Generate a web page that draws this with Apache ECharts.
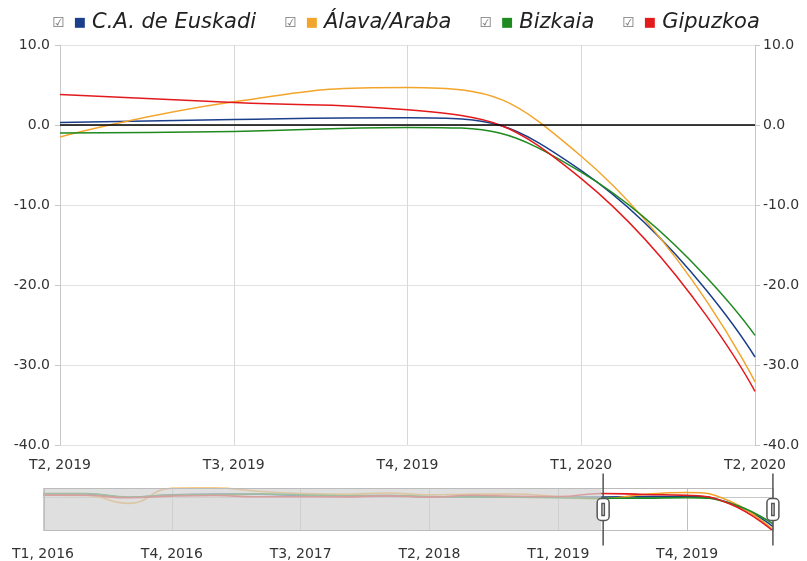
<!DOCTYPE html>
<html>
<head>
<meta charset="utf-8">
<title>Euskadi</title>
<script src="https://cdn.jsdelivr.net/npm/echarts@6/dist/echarts.min.js"></script>
<style>
  html, body { margin: 0; padding: 0; background: #fff; }
  #chart { width: 807px; height: 561px; }
</style>
</head>
<body>
<div id="chart"></div>
<script>
// trimestres
const quarters = [
  'T1, 2016', 'T2, 2016', 'T3, 2016', 'T4, 2016',
  'T1, 2017', 'T2, 2017', 'T3, 2017', 'T4, 2017',
  'T1, 2018', 'T2, 2018', 'T3, 2018', 'T4, 2018',
  'T1, 2019', 'T2, 2019', 'T3, 2019', 'T4, 2019',
  'T1, 2020', 'T2, 2020',
]
const seriesNames = ['C.A. de Euskadi', 'Álava/Araba', 'Bizkaia', 'Gipuzkoa']
const euskadi = [3.3, 3.3, 0.0, 2.6, 3.2, 3.0, 1.8, 1.2, 1.6, 0.5, 0.6, 0.2, 0.2, 0.3, 0.7, 0.9, -5.7, -29.0]
const alava = [2.0, 1.8, -6.0, 9.0, 9.2, 6.0, 3.8, 3.0, 4.2, 2.5, 3.0, 3.2, 0.6, -1.5, 2.9, 4.7, -3.9, -32.1]
const bizkaia = [3.8, 3.8, 0.3, 2.2, 2.6, 3.5, 2.4, 1.6, 2.0, 0.8, 0.3, 0.0, -0.4, -1.0, -0.8, -0.3, -5.9, -26.3]
const gipuzkoa = [2.2, 2.0, -0.5, 1.2, 1.8, 0.6, 0.6, 0.4, 1.4, 0.2, 2.0, 1.0, 0.8, 3.8, 2.8, 1.9, -6.7, -33.3]
// eje Y
const yMin = -40
const yMax = 10
const yStep = 10
// ventana del zoom
const zoomStart = 'T2, 2019'
const zoomEnd = 'T2, 2020'

const colors = ['#1b3f8b', '#f2a52a', '#1f8a1f', '#e31a1c']
const seriesData = [euskadi, alava, bizkaia, gipuzkoa]
const font = 'DejaVu Sans'

// rango del navegador = min/max de los datos
const allValues = [].concat(euskadi, alava, bizkaia, gipuzkoa)
const miniMin = Math.min.apply(null, allValues)
const miniMax = Math.max.apply(null, allValues)

const chart = echarts.init(document.getElementById('chart'))

// series del grafico principal
const mainSeries = seriesNames.map((name, i) => ({
  name: name,
  type: 'line',
  xAxisIndex: 0,
  yAxisIndex: 0,
  data: seriesData[i],
  smooth: 0.5,
  symbol: 'none',
  lineStyle: { width: 1.5, color: colors[i] },
  itemStyle: { color: colors[i] },
  markLine: i === 0 ? {
    silent: true,
    symbol: 'none',
    label: { show: false },
    lineStyle: { color: '#000', width: 1.5, type: 'solid' },
    data: [{ yAxis: 0 }],
  } : undefined,
}))

// series del navegador (abajo)
const miniSeries = seriesNames.map((name, i) => ({
  name: name,
  type: 'line',
  xAxisIndex: 1,
  yAxisIndex: 2,
  data: seriesData[i],
  smooth: 0.5,
  symbol: 'none',
  silent: true,
  lineStyle: { width: 1.6, color: colors[i] },
  itemStyle: { color: colors[i] },
}))

// zona gris fuera de la ventana seleccionada
const shade = {
  type: 'custom',
  xAxisIndex: 1,
  yAxisIndex: 2,
  silent: true,
  z: 5,
  encode: { x: [0, 1] },
  data: [[quarters.indexOf(quarters[0]), quarters.indexOf(zoomStart)]],
  renderItem: (params, api) => {
    const a = api.coord([api.value(0), miniMax])
    const b = api.coord([api.value(1), miniMax])
    const cs = params.coordSys
    return {
      type: 'rect',
      shape: { x: a[0], y: cs.y, width: b[0] - a[0], height: cs.height },
      style: { fill: 'rgba(210,210,210,0.72)' },
    }
  },
}

const axisGray = '#c8c8c8'
const labelStyle = { fontFamily: font, fontSize: 14, color: '#333' }

const option = {
  animation: false,
  legend: {
    top: 5,
    left: 'center',
    icon: 'none',
    itemWidth: 0,
    itemGap: 23,
    data: seriesNames,
    formatter: (name) => {
      const i = seriesNames.indexOf(name)
      return '{cb|\u2611}{s' + i + '|\u25A0}{t|' + name + '}'
    },
    textStyle: {
      fontFamily: font,
      fontSize: 21,
      fontStyle: 'italic',
      color: '#222',
      lineHeight: 26,
      rich: {
        cb: { fontFamily: font, fontSize: 14, fontStyle: 'normal', color: '#777', padding: [0, 9, 0, 0] },
        s0: { fontFamily: font, fontSize: 13, fontStyle: 'normal', color: colors[0], padding: [0, 6, 0, 0] },
        s1: { fontFamily: font, fontSize: 13, fontStyle: 'normal', color: colors[1], padding: [0, 6, 0, 0] },
        s2: { fontFamily: font, fontSize: 13, fontStyle: 'normal', color: colors[2], padding: [0, 6, 0, 0] },
        s3: { fontFamily: font, fontSize: 13, fontStyle: 'normal', color: colors[3], padding: [0, 6, 0, 0] },
        t: { fontFamily: font, fontSize: 21, fontStyle: 'italic', color: '#222' },
      },
    },
  },
  grid: [
    { left: 60, right: 52, top: 45, bottom: 116 },
    { left: 43, right: 34, top: 488, height: 43 },
  ],
  xAxis: [
    {
      type: 'category',
      gridIndex: 0,
      data: quarters,
      boundaryGap: false,
      axisLine: { lineStyle: { color: axisGray } },
      axisTick: { show: true, interval: 0, length: 5, lineStyle: { color: axisGray } },
      axisLabel: Object.assign({ interval: 0, margin: 13 }, labelStyle),
      splitLine: { show: true, interval: 0, lineStyle: { color: '#d8d8d8' } },
    },
    {
      type: 'category',
      gridIndex: 1,
      data: quarters,
      boundaryGap: false,
      axisLine: { lineStyle: { color: axisGray } },
      axisTick: { show: true, interval: 2, length: 8, lineStyle: { color: axisGray } },
      axisLabel: Object.assign({ interval: 2, margin: 16 }, labelStyle),
      splitLine: { show: true, interval: 2, lineStyle: { color: '#c0c0c0' } },
    },
  ],
  yAxis: [
    {
      type: 'value',
      gridIndex: 0,
      position: 'left',
      min: yMin,
      max: yMax,
      interval: yStep,
      axisLine: { show: true, lineStyle: { color: axisGray } },
      axisTick: { show: true, length: 5, lineStyle: { color: axisGray } },
      axisLabel: Object.assign({ margin: 10, formatter: (v) => v.toFixed(1) }, labelStyle),
      splitLine: { show: true, lineStyle: { color: '#e2e2e2' } },
    },
    {
      type: 'value',
      gridIndex: 0,
      position: 'right',
      min: yMin,
      max: yMax,
      interval: yStep,
      axisLine: { show: true, lineStyle: { color: axisGray } },
      axisTick: { show: true, length: 5, lineStyle: { color: axisGray } },
      axisLabel: Object.assign({ margin: 8, formatter: (v) => v.toFixed(1) }, labelStyle),
      splitLine: { show: false },
    },
    {
      type: 'value',
      gridIndex: 1,
      min: miniMin,
      max: miniMax,
      show: false,
      splitLine: { show: false },
    },
  ],
  dataZoom: [
    {
      type: 'slider',
      xAxisIndex: 0,
      filterMode: 'filter',
      startValue: zoomStart,
      endValue: zoomEnd,
      left: 43,
      right: 34,
      top: 488,
      height: 43,
      z: 10,
      showDetail: false,
      showDataShadow: false,
      brushSelect: false,
      moveHandleSize: 0,
      backgroundColor: 'transparent',
      fillerColor: 'transparent',
      borderColor: '#bbbbbb',
      handleIcon: 'path://M0,0V25M0,47V72M-2,25H2A4,4,0,0,1,6,29V43A4,4,0,0,1,2,47H-2A4,4,0,0,1,-6,43V29A4,4,0,0,1,-2,25ZM-1.2,30H1.2V42H-1.2Z',
      handleSize: '167%',
      handleStyle: { color: '#fff', borderColor: '#555', borderWidth: 1.5, shadowBlur: 0 },
      moveHandleStyle: { opacity: 0 },
    },
  ],
  series: mainSeries.concat(miniSeries, [shade]),
}

chart.setOption(option)
</script>
</body>
</html>
